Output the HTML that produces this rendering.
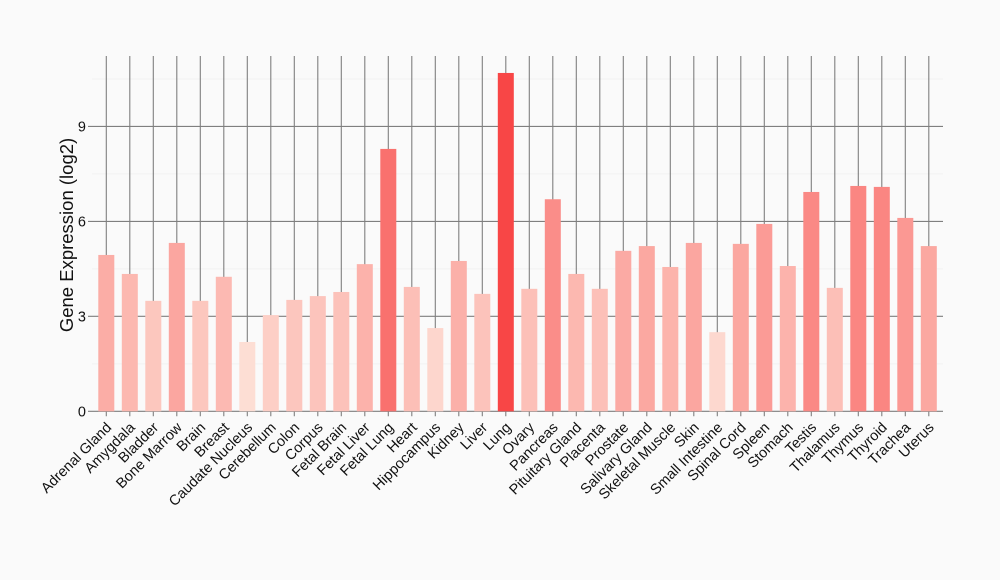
<!DOCTYPE html>
<html><head><meta charset="utf-8"><style>
html,body{margin:0;padding:0;background:#fafafa;}
svg{display:block;font-family:"Liberation Sans",Arial,sans-serif;}
</style></head><body>
<svg id="c" width="1000" height="580" xmlns="http://www.w3.org/2000/svg"></svg>
<script>
var names=["Adrenal Gland","Amygdala","Bladder","Bone Marrow","Brain","Breast","Caudate Nucleus","Cerebellum","Colon","Corpus","Fetal Brain","Fetal Liver","Fetal Lung","Heart","Hippocampus","Kidney","Liver","Lung","Ovary","Pancreas","Pituitary Gland","Placenta","Prostate","Salivary Gland","Skeletal Muscle","Skin","Small Intestine","Spinal Cord","Spleen","Stomach","Testis","Thalamus","Thymus","Thyroid","Trachea","Uterus"];
var vals=[4.94,4.34,3.49,5.32,3.49,4.25,2.19,3.04,3.52,3.64,3.77,4.65,8.29,3.93,2.63,4.75,3.71,10.69,3.87,6.7,4.34,3.87,5.07,5.22,4.56,5.32,2.5,5.29,5.92,4.59,6.93,3.9,7.12,7.09,6.11,5.22];
var y0=411.3,k=31.65,L=92,R=943,T=56;
var s='';
function Y(v){return y0-v*k;}
[1.5,4.5,7.5,10.5].forEach(function(v){s+='<line x1="'+L+'" x2="'+R+'" y1="'+Y(v)+'" y2="'+Y(v)+'" stroke="#f2f2f2" stroke-width="1"/>';});
[0,3,6,9].forEach(function(v){s+='<line x1="'+(L-4)+'" x2="'+R+'" y1="'+Y(v)+'" y2="'+Y(v)+'" stroke="#7f7f7f" stroke-width="1.1"/>';
s+='<text x="'+(L-6)+'" y="'+(Y(v)+5)+'" font-size="14.5" text-anchor="end" fill="#111">'+v+'</text>';});
for(var i=0;i<36;i++){var cx=106.3+i*23.5;
s+='<line x1="'+cx+'" x2="'+cx+'" y1="'+T+'" y2="'+(y0+5)+'" stroke="#7f7f7f" stroke-width="1.1"/>';}
for(var i=0;i<36;i++){var cx=106.3+i*23.5,v=vals[i],t=(v-2.19)/(10.69-2.19);
var r=Math.round(253-5*t),g=Math.round(222-152*t),b=Math.round(212-142*t);
s+='<rect x="'+(cx-8)+'" y="'+Y(v)+'" width="16" height="'+(v*k)+'" fill="rgb('+r+','+g+','+b+')"/>';
s+='<text transform="translate('+(cx+6)+','+(y0+17)+') rotate(-45)" font-size="14.5" text-anchor="end" fill="#111">'+names[i]+'</text>';}
s+='<text transform="translate(73,235) rotate(-90)" font-size="18.5" text-anchor="middle" fill="#111">Gene Expression (log2)</text>';
document.getElementById('c').innerHTML=s;
</script>
</body></html>
